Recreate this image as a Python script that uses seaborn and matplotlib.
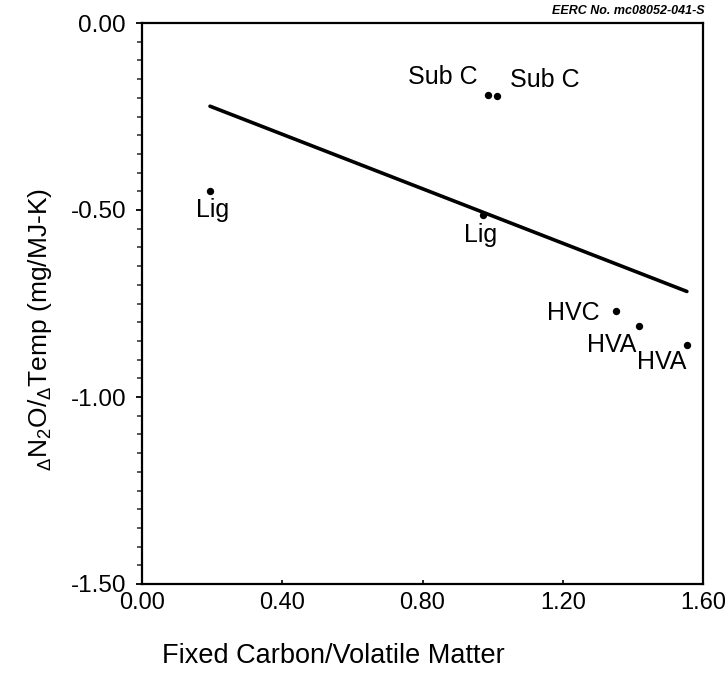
import matplotlib
matplotlib.use('Agg')
import matplotlib.pyplot as plt
import seaborn as sns
import pandas as pd
from matplotlib.ticker import MultipleLocator

# ---- data ----
fc_vm = [0.194, 0.973, 0.987, 1.013, 1.352, 1.418, 1.554]
dn2o = [-0.449, -0.513, -0.193, -0.195, -0.770, -0.810, -0.861]
coal_rank = ['Lig', 'Lig', 'Sub C', 'Sub C', 'HVC', 'HVA', 'HVA']
x_ticks = [0.0, 0.4, 0.8, 1.2, 1.6]
x_tick_labels = ['0.00', '0.40', '0.80', '1.20', '1.60']
y_ticks = [0.0, -0.5, -1.0, -1.5]
y_tick_labels = ['0.00', '-0.50', '-1.00', '-1.50']

# label placement (pixels offset, alignment) -- styling only
label_offsets = [(3, -19), (-3, -20), (-10, 18), (13, 16), (-16, -2), (-3, -19), (0, -17)]
label_ha = ['center', 'center', 'right', 'left', 'right', 'right', 'right']

sns.set_theme(style='ticks')
plt.rcParams['font.family'] = ['Liberation Sans', 'DejaVu Sans']
plt.rcParams['mathtext.fontset'] = 'custom'
plt.rcParams['mathtext.rm'] = 'Liberation Sans'
plt.rcParams['mathtext.it'] = 'Liberation Sans:italic'
plt.rcParams['mathtext.bf'] = 'Liberation Sans:bold'
plt.rcParams['axes.unicode_minus'] = False

df = pd.DataFrame({'fc_vm': fc_vm, 'dn2o': dn2o, 'rank': coal_rank})

fig = plt.figure(figsize=(7.25, 6.75), dpi=100)
ax = fig.add_axes([142 / 725, 1 - 584 / 675, (703 - 142) / 725, (584 - 23) / 675])

sns.regplot(data=df, x='fc_vm', y='dn2o', ci=None, truncate=True, ax=ax,
            scatter_kws=dict(s=28, color='black', linewidths=0, alpha=1),
            line_kws=dict(color='black', lw=2.6, solid_capstyle='round'))

for xv, yv, lab, off, ha in zip(df['fc_vm'], df['dn2o'], df['rank'], label_offsets, label_ha):
    ax.annotate(lab, (xv, yv), xytext=off, textcoords='offset pixels',
                ha=ha, va='center', fontsize=18, color='black')

ax.set_xlim(0, 1.6)
ax.set_ylim(-1.5, 0)
ax.set_xticks(x_ticks)
ax.set_xticklabels(x_tick_labels)
ax.set_yticks(y_ticks)
ax.set_yticklabels(y_tick_labels)
ax.yaxis.set_minor_locator(MultipleLocator(0.05))
ax.set_xlabel('')
ax.set_ylabel('')

for s in ax.spines.values():
    s.set_color('black')
    s.set_linewidth(1.6)
ax.spines['top'].set_visible(True)
ax.spines['right'].set_visible(True)

ax.tick_params(axis='y', which='major', direction='out', length=4.5, width=1.3,
               pad=7, labelsize=17.5, colors='black')
ax.tick_params(axis='y', which='minor', direction='out', length=3.5, width=1.1)
ax.tick_params(axis='x', which='major', direction='in', length=3, width=1.2,
               pad=6, labelsize=17, colors='black')

fig.text(40 / 725, 1 - 330 / 675,
         r'$_{\Delta}$N$_{2}$O/$_{\Delta}$Temp (mg/MJ-K)',
         rotation=90, ha='center', va='center', fontsize=19, color='black')
fig.text(162 / 725, 1 - 656 / 675, 'Fixed Carbon/Volatile Matter',
         ha='left', va='center', fontsize=19.5, color='black')
fig.text(705 / 725, 1 - 11 / 675, 'EERC No. mc08052-041-S',
         ha='right', va='center', fontsize=9, style='italic', weight='bold',
         color='black')

fig.savefig('out.png', dpi=100)
